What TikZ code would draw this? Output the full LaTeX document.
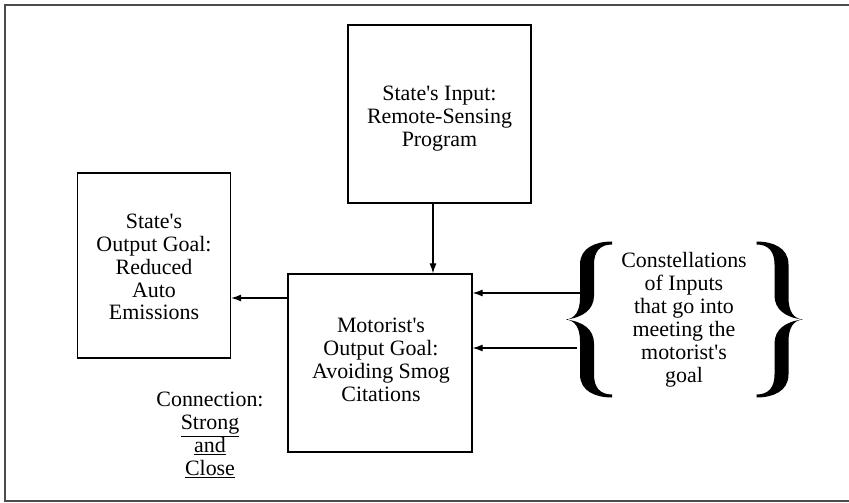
\documentclass[tikz,border=0pt]{standalone}
\usepackage{fontspec}
\setmainfont{Liberation Serif}
\usetikzlibrary{arrows.meta}
\newcommand{\ap}{\textquotesingle}
\begin{document}
\begin{tikzpicture}[x=1bp,y=-1bp,
  box/.style={draw=black,line width=1.3bp,inner sep=0pt},
  txt/.style={font=\fontsize{22}{23}\selectfont,align=center,inner sep=0pt},
  arr/.style={line width=1.1bp,-{Latex[length=10bp,width=7bp]}},
  frame/.style={draw=black!70,line width=1.4bp},
  brace/.style={fill=black,draw=none}]
\useasboundingbox (0,0) rectangle (849,503);
% outer frame
\draw[frame] (849,5) -- (5,5) -- (5,501) -- (849,501);
% boxes
\node[box,minimum width=183bp,minimum height=178bp] (tin) at (439.5,114) {};
\node[box,minimum width=153bp,minimum height=185bp] (sout) at (154,265.5) {};
\node[box,minimum width=184bp,minimum height=178bp] (mot) at (380,363) {};
% texts
\node[txt] (tint) at (439.5,119) {State\ap s Input:\\Remote-Sensing\\Program};
\node[txt] (soutt) at (154,267) {State\ap s\\Output Goal:\\Reduced\\Auto\\Emissions};
\node[txt] (mott) at (381,360) {Motorist\ap s\\Output Goal:\\Avoiding Smog\\Citations};
\node[txt] (cons) at (684,320) {Constellations\\of Inputs\\that go into\\meeting the\\motorist\ap s\\goal};
\node[txt] (conn) at (210,435) {Connection:\\\underline{Strong}\\\underline{and}\\\underline{Close}};
% braces
\begin{scope}[shift={(589,319.5)}]
\fill[brace] (23,-78) .. controls (7,-78) and (-9,-72) .. (-9,-55) -- (-9,-22)
  .. controls (-9,-8) and (-14,-1) .. (-23,0)
  .. controls (-14,1) and (-9,8) .. (-9,22) -- (-9,55)
  .. controls (-9,72) and (7,78) .. (23,78) -- (23,75)
  .. controls (11,75) and (5,68) .. (5,55) -- (5,24)
  .. controls (5,10) and (-6,2) .. (-23,0)
  .. controls (-6,-2) and (5,-10) .. (5,-24) -- (5,-55)
  .. controls (5,-68) and (11,-75) .. (23,-75) -- cycle;
\end{scope}
\begin{scope}[shift={(779.5,319.5)},xscale=-1]
\fill[brace] (23,-78) .. controls (7,-78) and (-9,-72) .. (-9,-55) -- (-9,-22)
  .. controls (-9,-8) and (-14,-1) .. (-23,0)
  .. controls (-14,1) and (-9,8) .. (-9,22) -- (-9,55)
  .. controls (-9,72) and (7,78) .. (23,78) -- (23,75)
  .. controls (11,75) and (5,68) .. (5,55) -- (5,24)
  .. controls (5,10) and (-6,2) .. (-23,0)
  .. controls (-6,-2) and (5,-10) .. (5,-24) -- (5,-55)
  .. controls (5,-68) and (11,-75) .. (23,-75) -- cycle;
\end{scope}
% connector coordinates
\coordinate (dx) at (433,0);
\coordinate (ly) at (0,298);
\coordinate (r1) at (581,293);
\coordinate (r2) at (577,348);
% arrows
\draw[arr] (tin.south -| dx) -- (mot.north -| dx);
\draw[arr] (mot.west |- ly) -- (sout.east |- ly);
\draw[arr] (r1) -- (mot.east |- r1);
\draw[arr] (r2) -- (mot.east |- r2);
\end{tikzpicture}
\end{document}
